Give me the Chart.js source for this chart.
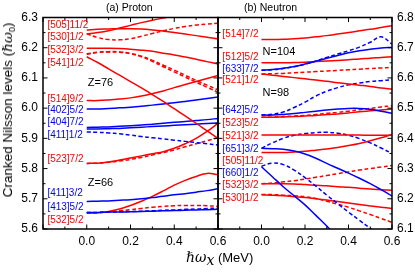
<!DOCTYPE html>
<html>
<head>
<meta charset="utf-8">
<script src="https://cdn.jsdelivr.net/npm/chart.js@4.4.1/dist/chart.umd.min.js"></script>
<style>
  body { margin: 0; background: #fff; }
  .wrap { position: relative; width: 415px; height: 272px; overflow: hidden; font-family: "Liberation Sans", Arial, sans-serif; color: #000; }
  .wrap canvas { position: absolute; left: 0; top: 0; }
  .txt { position: absolute; white-space: nowrap; line-height: 1; }
  .hw { font-family: "DejaVu Serif", "Liberation Serif", serif; font-style: italic; }
  .ttl { font-size: 10.5px; top: 2px; }
  .ytitle { left: 9px; top: 110px; font-size: 13.5px; transform: translate(-50%, -50%) rotate(-90deg); }
  .xtitle { left: 186px; top: 250px; font-size: 13px; }
  .xtitle .hw { font-size: 14px; }
  sub { font-size: 9px; vertical-align: -3px; }
</style>
</head>
<body>
<div class="wrap">
  <canvas id="proton" width="415" height="272"></canvas>
  <canvas id="neutron" width="415" height="272"></canvas>
  <div class="txt ttl" style="left:106px">(a) Proton</div>
  <div class="txt ttl" style="left:244px">(b) Neutron</div>
  <div class="txt ytitle">Cranked Nilsson levels (<span class="hw">ℏω</span><sub>0</sub>)</div>
  <div class="txt xtitle"><span class="hw">ℏω</span><sub class="hw">x</sub> (MeV)</div>
</div>
<script>
// rotational frequency grid (MeV)
const omega = [0, 0.05, 0.1, 0.15, 0.2, 0.25, 0.3, 0.35, 0.4, 0.45, 0.5, 0.55, 0.6];

//----------------proton levels (hbar omega0)------------------
const p505_11_2   = [6.259, 6.261, 6.262, 6.263, 6.263, 6.262, 6.259, 6.255, 6.250, 6.245, 6.240, 6.235, 6.229];
const p530_1_2_a  = [6.246, 6.250, 6.256, 6.265, 6.274, 6.283, 6.291, 6.298, 6.305, 6.312, 6.318, 6.324, 6.330];
const p530_1_2_b  = [6.246, 6.234, 6.227, 6.226, 6.230, 6.238, 6.247, 6.256, 6.264, 6.270, 6.275, 6.278, 6.281];
const p532_3_2_a  = [6.198, 6.198, 6.198, 6.197, 6.195, 6.192, 6.188, 6.182, 6.176, 6.169, 6.162, 6.154, 6.146];
const p532_3_2_b  = [6.180, 6.185, 6.187, 6.186, 6.181, 6.172, 6.158, 6.142, 6.126, 6.109, 6.092, 6.076, 6.061];
const p541_1_2_a  = [6.170, 6.151, 6.130, 6.109, 6.088, 6.067, 6.045, 6.022, 5.998, 5.974, 5.950, 5.925, 5.900];
const p541_1_2_b  = [6.178, 6.184, 6.186, 6.185, 6.180, 6.170, 6.155, 6.137, 6.120, 6.103, 6.086, 6.069, 6.053];
const p514_9_2    = [6.025, 6.025, 6.027, 6.030, 6.034, 6.040, 6.048, 6.057, 6.068, 6.078, 6.088, 6.098, 6.108];
const p402_5_2    = [5.997, 5.997, 5.999, 6.001, 6.003, 6.006, 6.010, 6.014, 6.018, 6.022, 6.027, 6.032, 6.037];
const p404_7_2_a  = [5.936, 5.937, 5.938, 5.940, 5.942, 5.944, 5.947, 5.950, 5.953, 5.956, 5.959, 5.962, 5.966];
const p404_7_2_b  = [5.931, 5.931, 5.932, 5.933, 5.935, 5.937, 5.939, 5.941, 5.943, 5.945, 5.947, 5.949, 5.951];
const p411_1_2    = [5.921, 5.920, 5.918, 5.915, 5.911, 5.906, 5.902, 5.898, 5.894, 5.890, 5.886, 5.882, 5.878];
const p523_7_2_a  = [5.817, 5.818, 5.822, 5.828, 5.835, 5.842, 5.849, 5.856, 5.867, 5.882, 5.900, 5.923, 5.950];
const p523_7_2_b  = [5.817, 5.818, 5.821, 5.825, 5.830, 5.837, 5.845, 5.853, 5.862, 5.872, 5.882, 5.892, 5.902];
const p411_3_2    = [5.691, 5.692, 5.693, 5.695, 5.697, 5.700, 5.704, 5.708, 5.713, 5.717, 5.722, 5.727, 5.733];
const p413_5_2_a  = [5.655, 5.655, 5.656, 5.656, 5.657, 5.658, 5.659, 5.660, 5.661, 5.662, 5.663, 5.664, 5.665];
const p413_5_2_b  = [5.655, 5.655, 5.656, 5.657, 5.658, 5.659, 5.660, 5.662, 5.663, 5.665, 5.666, 5.668, 5.669];
const p532_5_2_a  = [5.653, 5.654, 5.658, 5.666, 5.678, 5.692, 5.708, 5.726, 5.745, 5.761, 5.774, 5.784, 5.780];
const p532_5_2_b  = [5.653, 5.654, 5.657, 5.660, 5.664, 5.668, 5.672, 5.675, 5.677, 5.678, 5.678, 5.677, 5.675];

const proton_names   = ['[505]11/2', '[530]1/2', '[532]3/2', '[541]1/2', '[514]9/2', '[402]5/2',
                        '[404]7/2', '[411]1/2', '[523]7/2', '[411]3/2', '[413]5/2', '[532]5/2'];
const proton_name_at = [6.275, 6.236, 6.190, 6.150, 6.030, 5.994, 5.952, 5.909, 5.830, 5.718, 5.672, 5.629];
const proton_gaps    = ['Z=76', 'Z=66'];
const proton_gap_at  = [6.082, 5.754];
const proton_ticks   = [5.6, 6.3];

//----------------neutron levels (hbar omega0)------------------
const n514_7_2    = [6.727, 6.727, 6.728, 6.730, 6.732, 6.736, 6.740, 6.745, 6.750, 6.756, 6.761, 6.767, 6.773];
const n633_7_2_a  = [6.626, 6.628, 6.632, 6.638, 6.646, 6.655, 6.665, 6.674, 6.683, 6.690, 6.695, 6.699, 6.701];
const n633_7_2_b  = [6.625, 6.627, 6.631, 6.637, 6.645, 6.656, 6.668, 6.679, 6.690, 6.702, 6.718, 6.736, 6.712];
const n512_5_2    = [6.650, 6.650, 6.650, 6.651, 6.652, 6.654, 6.656, 6.658, 6.660, 6.663, 6.665, 6.668, 6.670];
const n521_1_2_a  = [6.613, 6.609, 6.605, 6.601, 6.597, 6.593, 6.589, 6.584, 6.580, 6.576, 6.572, 6.567, 6.563];
const n521_1_2_b  = [6.613, 6.614, 6.615, 6.617, 6.619, 6.621, 6.623, 6.625, 6.627, 6.629, 6.631, 6.633, 6.635];
const n642_5_2_a  = [6.477, 6.477, 6.479, 6.482, 6.486, 6.490, 6.494, 6.497, 6.499, 6.499, 6.496, 6.490, 6.483];
const n642_5_2_b  = [6.477, 6.480, 6.487, 6.502, 6.520, 6.540, 6.556, 6.568, 6.577, 6.583, 6.588, 6.591, 6.594];
const n523_5_2_a  = [6.470, 6.470, 6.471, 6.472, 6.474, 6.476, 6.479, 6.481, 6.484, 6.488, 6.491, 6.494, 6.497];
const n523_5_2_b  = [6.470, 6.470, 6.472, 6.474, 6.476, 6.479, 6.483, 6.486, 6.490, 6.495, 6.499, 6.504, 6.508];
const n521_3_2    = [6.411, 6.411, 6.411, 6.411, 6.411, 6.411, 6.411, 6.411, 6.411, 6.411, 6.410, 6.410, 6.410];
const n651_3_2_a  = [6.367, 6.366, 6.364, 6.358, 6.348, 6.334, 6.317, 6.301, 6.285, 6.268, 6.250, 6.230, 6.209];
const n651_3_2_b  = [6.367, 6.385, 6.400, 6.410, 6.416, 6.419, 6.420, 6.417, 6.410, 6.399, 6.385, 6.368, 6.350];
const n505_11_2   = [6.353, 6.353, 6.353, 6.355, 6.357, 6.361, 6.365, 6.370, 6.376, 6.383, 6.392, 6.402, 6.413];
const n660_1_2_a  = [6.306, 6.273, 6.240, 6.210, 6.180, 6.145, 6.110, 6.072, 6.035, 5.998, 5.960, 5.922, 5.884];
const n660_1_2_b  = [6.308, 6.318, 6.313, 6.295, 6.270, 6.242, 6.212, 6.184, 6.156, 6.129, 6.102, 6.075, 6.048];
const n532_3_2_a  = [6.250, 6.250, 6.250, 6.249, 6.247, 6.245, 6.243, 6.240, 6.238, 6.235, 6.232, 6.230, 6.228];
const n532_3_2_b  = [6.250, 6.252, 6.256, 6.260, 6.265, 6.271, 6.277, 6.283, 6.289, 6.295, 6.300, 6.305, 6.310];
const n530_1_2_a  = [6.213, 6.212, 6.210, 6.207, 6.204, 6.200, 6.196, 6.191, 6.186, 6.181, 6.176, 6.172, 6.168];
const n530_1_2_b  = [6.214, 6.214, 6.212, 6.210, 6.207, 6.201, 6.192, 6.182, 6.172, 6.160, 6.148, 6.135, 6.122];

const neutron_names   = ['[514]7/2', '[512]5/2', '[633]7/2', '[521]1/2', '[642]5/2', '[523]5/2',
                         '[521]3/2', '[651]3/2', '[505]11/2', '[660]1/2', '[532]3/2', '[530]1/2'];
const neutron_name_at = [6.744, 6.670, 6.629, 6.591, 6.494, 6.450, 6.408, 6.365, 6.323, 6.284, 6.245, 6.201];
const neutron_gaps    = ['N=104', 'N=98'];
const neutron_gap_at  = [6.687, 6.549];
const neutron_ticks   = [6.1, 6.8];

const omega_ticks = [-0.2, 0.6];

//----------------styles------------------
const red = '#ff0000';
const blue = '#0000ff';
const font = '"Liberation Sans", Arial, sans-serif';

function orbit_color(name) {
    // odd oscillator shell N -> negative parity -> red
    return Number(name[1]) % 2 ? red : blue;
}

function level(name, dashed, values) {
    return {
        label: name + (dashed ? ' -' : ' +'),
        data: omega.map((w, i) => ({ x: w, y: values[i] })),
        borderColor: orbit_color(name),
        borderWidth: 1.5,
        borderDash: dashed ? [4, 2.5] : [],
        pointRadius: 0,
        tension: 0.4,
        fill: false,
    };
}

const proton_levels = [
    level('[505]11/2', false, p505_11_2),
    level('[530]1/2', false, p530_1_2_a),
    level('[530]1/2', true, p530_1_2_b),
    level('[532]3/2', false, p532_3_2_a),
    level('[532]3/2', true, p532_3_2_b),
    level('[541]1/2', false, p541_1_2_a),
    level('[541]1/2', true, p541_1_2_b),
    level('[514]9/2', false, p514_9_2),
    level('[402]5/2', false, p402_5_2),
    level('[404]7/2', false, p404_7_2_a),
    level('[404]7/2', false, p404_7_2_b),
    level('[411]1/2', true, p411_1_2),
    level('[523]7/2', false, p523_7_2_a),
    level('[523]7/2', true, p523_7_2_b),
    level('[411]3/2', false, p411_3_2),
    level('[413]5/2', false, p413_5_2_a),
    level('[413]5/2', true, p413_5_2_b),
    level('[532]5/2', false, p532_5_2_a),
    level('[532]5/2', true, p532_5_2_b),
];

const neutron_levels = [
    level('[514]7/2', false, n514_7_2),
    level('[633]7/2', false, n633_7_2_a),
    level('[633]7/2', true, n633_7_2_b),
    level('[512]5/2', false, n512_5_2),
    level('[521]1/2', false, n521_1_2_a),
    level('[521]1/2', true, n521_1_2_b),
    level('[642]5/2', false, n642_5_2_a),
    level('[642]5/2', true, n642_5_2_b),
    level('[523]5/2', false, n523_5_2_a),
    level('[523]5/2', true, n523_5_2_b),
    level('[521]3/2', false, n521_3_2),
    level('[651]3/2', false, n651_3_2_a),
    level('[651]3/2', true, n651_3_2_b),
    level('[505]11/2', false, n505_11_2),
    level('[660]1/2', false, n660_1_2_a),
    level('[660]1/2', true, n660_1_2_b),
    level('[532]3/2', false, n532_3_2_a),
    level('[532]3/2', true, n532_3_2_b),
    level('[530]1/2', false, n530_1_2_a),
    level('[530]1/2', true, n530_1_2_b),
];

//----------------frame, inward ticks and orbital labels------------------
const decor = {
    id: 'decor',
    afterDatasetsDraw(chart, args, o) {
        const ctx = chart.ctx;
        const a = chart.chartArea;
        const xs = chart.scales.x;
        const ys = chart.scales.y;
        ctx.save();
        ctx.strokeStyle = '#000';
        ctx.lineWidth = 1;
        ctx.beginPath();
        for (let i = 0; i <= 8; i++) {
            const px = xs.getPixelForValue(xs.min + i * 0.1);
            const len = i % 2 ? 2.5 : 4.5;
            ctx.moveTo(px, a.bottom); ctx.lineTo(px, a.bottom - len);
            ctx.moveTo(px, a.top); ctx.lineTo(px, a.top + len);
        }
        for (let i = 0; i <= 14; i++) {
            const py = ys.getPixelForValue(ys.min + i * 0.05);
            const len = i % 2 ? 2.5 : 4.5;
            ctx.moveTo(a.left, py); ctx.lineTo(a.left + len, py);
            ctx.moveTo(a.right, py); ctx.lineTo(a.right - len, py);
        }
        ctx.stroke();
        ctx.lineWidth = 1.5;
        ctx.strokeRect(a.left, a.top, a.right - a.left, a.bottom - a.top);

        ctx.textBaseline = 'middle';
        ctx.textAlign = 'left';
        ctx.font = '10px ' + font;
        o.names.forEach((n, i) => {
            ctx.fillStyle = orbit_color(n);
            ctx.fillText(n, xs.getPixelForValue(-0.18), ys.getPixelForValue(o.name_at[i]));
        });
        ctx.fillStyle = '#000';
        ctx.font = '11px ' + font;
        o.gaps.forEach((g, i) => {
            ctx.fillText(g, xs.getPixelForValue(0.005), ys.getPixelForValue(o.gap_at[i]));
        });
        ctx.restore();
    }
};

function make_chart(id, levels, yrange, side, pad, ywidth, labels) {
    return new Chart(document.getElementById(id), {
        type: 'line',
        data: { datasets: levels },
        options: {
            responsive: false,
            animation: false,
            events: [],
            layout: { padding: pad },
            plugins: { legend: { display: false }, tooltip: { enabled: false }, decor: labels },
            scales: {
                x: {
                    type: 'linear',
                    min: omega_ticks[0],
                    max: omega_ticks[1],
                    grid: { display: false, drawTicks: false },
                    border: { display: false },
                    ticks: {
                        stepSize: 0.2,
                        autoSkip: false,
                        maxRotation: 0,
                        padding: 5,
                        color: '#000',
                        font: { family: font, size: 12 },
                        callback: v => (v < -0.01 ? '' : Number(v).toFixed(1)),
                    },
                    afterFit: s => { s.height = 43; },
                },
                y: {
                    type: 'linear',
                    position: side,
                    min: yrange[0],
                    max: yrange[1],
                    grid: { display: false, drawTicks: false },
                    border: { display: false },
                    ticks: {
                        stepSize: 0.1,
                        padding: 5,
                        color: '#000',
                        font: { family: font, size: 12 },
                        callback: v => Number(v).toFixed(1),
                    },
                    afterFit: s => { s.width = ywidth; },
                },
            },
        },
        plugins: [decor],
    });
}

const proton_chart = make_chart('proton', proton_levels, proton_ticks, 'left',
    { left: 0, right: 197, top: 17.5, bottom: 0 }, 43,
    { names: proton_names, name_at: proton_name_at, gaps: proton_gaps, gap_at: proton_gap_at });

const neutron_chart = make_chart('neutron', neutron_levels, neutron_ticks, 'right',
    { left: 218, right: 0, top: 17.5, bottom: 0 }, 23,
    { names: neutron_names, name_at: neutron_name_at, gaps: neutron_gaps, gap_at: neutron_gap_at });
</script>
</body>
</html>
